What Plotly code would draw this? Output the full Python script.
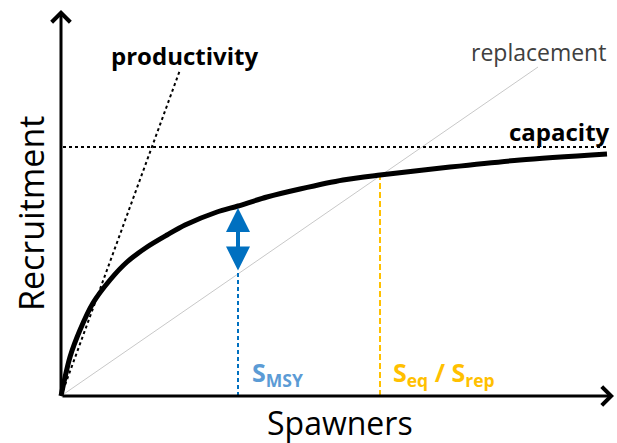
import plotly.graph_objects as go

# Stock–recruitment curve (arbitrary units)
spawners = [0, 9, 19, 32, 49, 66, 86, 106, 124, 156, 177, 206, 239, 282, 319, 389, 459, 546]
recruits = [0, 39, 66, 93, 116, 134, 149, 161, 171, 184, 190, 199, 207, 216, 221, 229, 236, 242]

capacity_level = 249
capacity_x = [2, 547]
productivity_x = [0, 119]
productivity_y = [0, 326]
replacement_x = [0, 477]
replacement_y = [0, 329]

s_msy = 177
s_msy_replacement = 124
s_msy_curve = 188
s_eq = 319
s_eq_recruits = 220

x_axis_end = 553
y_axis_end = 386

BLUE = "#0070C0"
LIGHT_BLUE = "#5B9BD5"
GOLD = "#FFC000"
FONT = "Open Sans"

fig = go.Figure()

fig.add_trace(go.Scatter(x=replacement_x, y=replacement_y, mode="lines",
                         line=dict(color="#C8C8C8", width=1), hoverinfo="skip"))
fig.add_trace(go.Scatter(x=productivity_x, y=productivity_y, mode="lines",
                         line=dict(color="black", width=2, dash="dot"), hoverinfo="skip"))
fig.add_trace(go.Scatter(x=capacity_x, y=[capacity_level, capacity_level], mode="lines",
                         line=dict(color="black", width=2, dash="dot"), hoverinfo="skip"))
fig.add_trace(go.Scatter(x=[s_msy, s_msy], y=[0, s_msy_replacement], mode="lines",
                         line=dict(color=BLUE, width=2, dash="4px,3px"), hoverinfo="skip"))
fig.add_trace(go.Scatter(x=[s_eq, s_eq], y=[0, s_eq_recruits], mode="lines",
                         line=dict(color=GOLD, width=2, dash="6px,3px"), hoverinfo="skip"))
fig.add_trace(go.Scatter(x=spawners, y=recruits, mode="lines", line_shape="spline",
                         line=dict(color="black", width=5, smoothing=0.8), hoverinfo="skip"))

# axes with arrow heads
fig.add_annotation(x=0, y=y_axis_end, ax=0, ay=0, xref="x", yref="y", axref="x", ayref="y",
                   showarrow=True, arrowhead=4, arrowsize=1.2, arrowwidth=3, arrowcolor="black", text="")
fig.add_annotation(x=x_axis_end, y=0, ax=0, ay=0, xref="x", yref="y", axref="x", ayref="y",
                   showarrow=True, arrowhead=4, arrowsize=1.2, arrowwidth=3, arrowcolor="black", text="")

# MSY double arrow
fig.add_annotation(x=s_msy, y=s_msy_curve, ax=s_msy, ay=s_msy_replacement,
                   xref="x", yref="y", axref="x", ayref="y", showarrow=True,
                   arrowhead=2, startarrowhead=2, arrowside="end+start",
                   arrowsize=1.2, startarrowsize=1.2, arrowwidth=4, arrowcolor=BLUE, text="")

fig.add_annotation(x=123, y=341, xref="x", yref="y", text="<b>productivity</b>", showarrow=False,
                   font=dict(family=FONT, size=24, color="black"))
fig.add_annotation(x=551, y=265, xref="x", yref="y", text="<b>capacity</b>", showarrow=False,
                   xanchor="right", font=dict(family=FONT, size=24, color="black"))
fig.add_annotation(x=547, y=344, xref="x", yref="y", text="replacement", showarrow=False,
                   xanchor="right", font=dict(family=FONT, size=23, color="#404040"))
fig.add_annotation(x=189, y=23, xref="x", yref="y", text="<b>S<sub>MSY</sub></b>", showarrow=False,
                   xanchor="left", font=dict(family=FONT, size=25, color=LIGHT_BLUE))
fig.add_annotation(x=330, y=23, xref="x", yref="y", text="<b>S<sub>eq</sub> / S<sub>rep</sub></b>",
                   showarrow=False, xanchor="left", font=dict(family=FONT, size=25, color=GOLD))

fig.add_annotation(x=279, y=-26, xref="x", yref="y", text="Spawners", showarrow=False,
                   font=dict(family=FONT, size=32, color="black"))
fig.add_annotation(x=-30, y=182, xref="x", yref="y", text="Recruitment", showarrow=False,
                   textangle=-90, font=dict(family=FONT, size=34, color="black"))

fig.update_layout(
    width=617, height=443, margin=dict(l=0, r=0, t=0, b=0),
    paper_bgcolor="white", plot_bgcolor="white", showlegend=False,
    xaxis=dict(range=[-61, 556], visible=False, fixedrange=True),
    yaxis=dict(range=[-47, 396], visible=False, fixedrange=True),
)

fig.write_html("out.html", config={"displayModeBar": False},
               post_script="document.body.style.margin='0px';")
